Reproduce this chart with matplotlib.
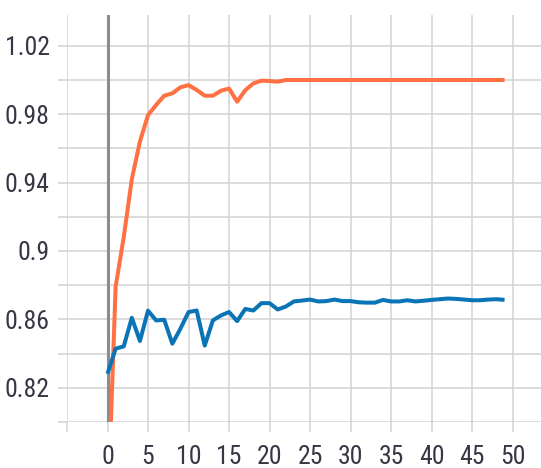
import matplotlib
matplotlib.use("Agg")
import matplotlib.pyplot as plt
from matplotlib import font_manager

epochs = list(range(50))
orange_vals = [0.744, 0.879, 0.908, 0.942, 0.964, 0.9795, 0.9854, 0.9908, 0.9922, 0.9957,
               0.997, 0.9942, 0.9908, 0.9908, 0.9937, 0.995, 0.9873, 0.994, 0.998, 0.9996,
               0.9994, 0.999, 1.0, 1.0, 1.0, 1.0, 1.0, 1.0, 1.0, 1.0,
               1.0, 1.0, 1.0, 1.0, 1.0, 1.0, 1.0, 1.0, 1.0, 1.0,
               1.0, 1.0, 1.0, 1.0, 1.0, 1.0, 1.0, 1.0, 1.0, 1.0]
blue_vals = [0.8282, 0.8429, 0.8442, 0.8609, 0.8474, 0.8651, 0.8594, 0.8598, 0.8458, 0.8546,
             0.8643, 0.8652, 0.8447, 0.8594, 0.8623, 0.8643, 0.859, 0.8661, 0.8652, 0.8695,
             0.8695, 0.8658, 0.8675, 0.8705, 0.871, 0.8716, 0.8705, 0.8707, 0.8716, 0.8707,
             0.8707, 0.870, 0.8698, 0.8698, 0.8714, 0.8705, 0.8705, 0.8712, 0.8705, 0.8709,
             0.8714, 0.8718, 0.8722, 0.872, 0.8716, 0.8712, 0.8712, 0.8716, 0.8718, 0.8714]
x_ticks = list(range(-5, 51, 5))
x_labels = ["" if t < 0 else str(t) for t in x_ticks]
y_ticks = [0.80, 0.82, 0.84, 0.86, 0.88, 0.90, 0.92, 0.94, 0.96, 0.98, 1.00, 1.02]
y_labels = ["", "0.82", "", "0.86", "", "0.9", "", "0.94", "", "0.98", "", "1.02"]

names = {f.name for f in font_manager.fontManager.ttflist}
fam = ["Roboto Condensed", "Archivo Narrow", "Liberation Sans", "DejaVu Sans"]
fam = [f for f in fam if f in names] or ["DejaVu Sans"]
plt.rcParams['font.family'] = fam

fig = plt.figure(figsize=(5.41, 4.68), dpi=100)
ax = fig.add_axes([67/541, 46/468, 474/541, 407/468])
ax.set_xlim(-5, 53.5)
ax.set_ylim(0.80, 1.038)

for s in ax.spines.values():
    s.set_visible(False)

gridc = '#d2d2d2'
ax.set_xticks(x_ticks)
ax.set_xticklabels(x_labels)
ax.set_yticks(y_ticks)
ax.set_yticklabels(y_labels)
ax.grid(True, color=gridc, linewidth=1.1, alpha=1.0)
ax.tick_params(axis='both', color=gridc, width=1.1, labelcolor='#363645', labelsize=18.5)
ax.tick_params(axis='x', length=7.5, pad=9)
ax.tick_params(axis='y', length=6.5, pad=6)

ax.axvline(0, color='#8c8c8c', linewidth=2.2, zorder=1.5)

ax.plot(epochs, orange_vals, color='#FF7043', linewidth=2.9, zorder=3, solid_capstyle='butt')
ax.plot(epochs, blue_vals, color='#0A74B6', linewidth=2.9, zorder=3, solid_capstyle='butt')
ax.set_axisbelow(True)

fig.savefig("out.png", dpi=100)
